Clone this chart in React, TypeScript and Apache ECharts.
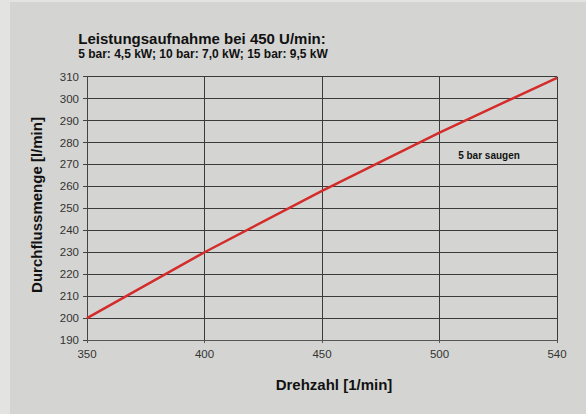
import React, { useEffect, useRef } from "react";
import * as echarts from "echarts";

const categories = ["350", "400", "450", "500", "540"];
const flowValues = [200, 230, 258, 284.5, 309.5];
const titleLine1 = "Leistungsaufnahme bei 450 U/min:";
const titleLine2 = "5 bar: 4,5 kW; 10 bar: 7,0 kW; 15 bar: 9,5 kW";
const seriesLabel = "5 bar saugen";

export default function App() {
  const ref = useRef<HTMLDivElement>(null);
  useEffect(() => {
    if (!ref.current) return;
    const chart = echarts.init(ref.current, undefined, { renderer: "svg" });
    const font = "'Liberation Sans', Arial, sans-serif";
    chart.setOption({
      animation: false,
      backgroundColor: "transparent",
      textStyle: { fontFamily: font },
      grid: { left: 77, right: 29, top: 74.7, bottom: 74 },
      xAxis: {
        type: "category",
        data: categories,
        boundaryGap: false,
        axisLine: { lineStyle: { color: "#555", width: 1 } },
        axisTick: { show: true, length: 3, lineStyle: { color: "#555" } },
        axisLabel: { color: "#333", fontSize: 11.5, margin: 8, fontFamily: font },
        splitLine: { show: true, lineStyle: { color: "#3a3a3a", width: 1 } },
      },
      yAxis: {
        type: "value",
        min: 190,
        max: 310,
        interval: 10,
        axisLine: { show: true, lineStyle: { color: "#444", width: 1 } },
        axisTick: { show: true, length: 4, lineStyle: { color: "#444" } },
        axisLabel: { color: "#333", fontSize: 11.5, margin: 8, fontFamily: font },
        splitLine: { show: true, lineStyle: { color: "#3a3a3a", width: 1 } },
      },
      graphic: [
        {
          type: "text",
          x: 192,
          y: 36,
          style: {
            text: titleLine1,
            fontSize: 15,
            fontWeight: "bold",
            fontFamily: font,
            fill: "#111",
            align: "center",
            verticalAlign: "middle",
          },
        },
        {
          type: "text",
          x: 193,
          y: 52,
          style: {
            text: titleLine2,
            fontSize: 12,
            fontWeight: "bold",
            fontFamily: font,
            fill: "#111",
            align: "center",
            verticalAlign: "middle",
          },
        },
        {
          type: "text",
          x: 479,
          y: 153,
          style: {
            text: seriesLabel,
            fontSize: 10,
            fontWeight: "bold",
            fontFamily: font,
            fill: "#111",
            align: "center",
            verticalAlign: "middle",
          },
        },
        {
          type: "text",
          x: 324,
          y: 382,
          style: {
            text: "Drehzahl [1/min]",
            fontSize: 15,
            fontWeight: "bold",
            fontFamily: font,
            fill: "#111",
            align: "center",
            verticalAlign: "middle",
          },
        },
        {
          type: "text",
          x: 26,
          y: 203,
          rotation: Math.PI / 2,
          style: {
            text: "Durchflussmenge [l/min]",
            fontSize: 15,
            fontWeight: "bold",
            fontFamily: font,
            fill: "#111",
            align: "center",
            verticalAlign: "middle",
          },
        },
      ],
      series: [
        {
          type: "line",
          data: flowValues,
          symbol: "none",
          lineStyle: { color: "#d42b2b", width: 2.5 },
          z: 5,
        },
      ],
    });
    return () => chart.dispose();
  }, []);
  return (
    <div
      style={{
        position: "absolute",
        left: 0,
        top: 0,
        width: 586,
        height: 414,
        background: "#e3e4e1",
      }}
    >
      <div
        style={{
          position: "absolute",
          left: 10,
          top: 2,
          width: 576,
          height: 412,
          background: "#d4d5d2",
        }}
      >
        <div ref={ref} style={{ width: 576, height: 412 }} />
      </div>
    </div>
  );
}
